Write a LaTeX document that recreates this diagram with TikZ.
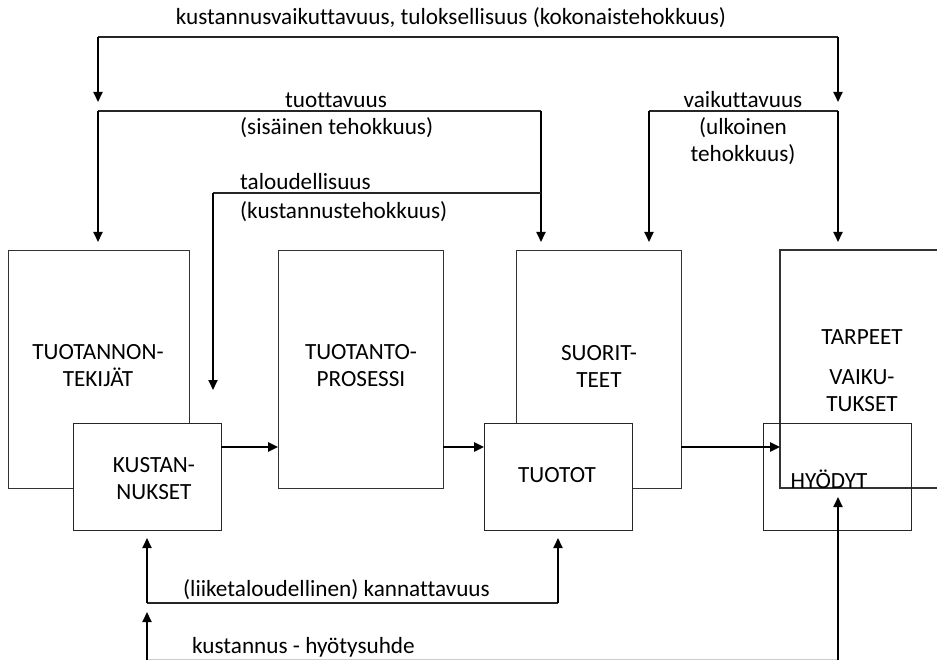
\documentclass[tikz,border=0pt]{standalone}
\usepackage{fontspec}
\setmainfont{Carlito}[Ligatures={NoCommon}]
\usetikzlibrary{arrows.meta}
\begin{document}
\begin{tikzpicture}[x=1pt,y=-1pt,
  font=\fontsize{23.2}{27}\selectfont,
  bigbox/.style={draw=black!80,line width=1.1pt,anchor=north west,inner sep=0pt},
  smallbox/.style={draw=black!85,line width=1.1pt,anchor=north west,inner sep=0pt},
  txt/.style={inner sep=0pt,align=center},
  lbl/.style={inner sep=0pt,anchor=west},
  feed/.style={line width=1.1pt,draw=black!85},
  arr/.style={line width=1.8pt,-{Triangle[length=10pt,width=9pt]}},
  flow/.style={line width=2.4pt,-{Triangle[length=10pt,width=9pt]}}]
\useasboundingbox (0,0) rectangle (937,660);
\clip (0,0) rectangle (937,660);

% large boxes
\node[bigbox,minimum width=181pt,minimum height=238pt] (tek) at (8,250) {};
\node[bigbox,minimum width=165pt,minimum height=238pt] (pros) at (278,250) {};
\node[bigbox,minimum width=165pt,minimum height=238pt] (suor) at (516,250) {};
% the last stage runs past the right margin
\draw[draw=black!80,line width=1.1pt] (945,250) -| (780,488) -- (945,488);

\node[txt] (tekt) at (98,366) {TUOTANNON-\\TEKIJÄT};
\node[txt] (prost) at (361,366) {TUOTANTO-\\PROSESSI};
\node[txt] (suort) at (599,366) {SUORIT-\\TEET};
\node[txt] (tarpt) at (862,337) {TARPEET};
\node[txt] (vaikt) at (862,391) {VAIKU-\\TUKSET};

% small boxes
\node[smallbox,fill=white,minimum width=148pt,minimum height=107pt] (kust) at (73,423) {};
\node[smallbox,fill=white,minimum width=148pt,minimum height=107pt] (tuot) at (484,423) {};
\node[smallbox,minimum width=148pt,minimum height=107pt] (hyod) at (763,423) {};

\node[txt] (kustt) at (154,479) {KUSTAN-\\NUKSET};
\node[txt] (tuott) at (557,475) {TUOTOT};
\node[txt] (hyodt) at (829,479) {HYÖDYT};

% flow between the stages
\coordinate (f1) at (221,447);
\coordinate (f2) at (278,447);
\coordinate (f3) at (443,447);
\coordinate (f4) at (484,447);
\coordinate (f5) at (681,447);
\coordinate (f6) at (780,447);
\draw[flow] (f1) -- (f2);
\draw[flow] (f3) -- (f4);
\draw[flow] (f5) -- (f6);

% kustannusvaikuttavuus
\coordinate (a1) at (98,37);
\coordinate (a2) at (838,37);
\coordinate (a1e) at (98,102);
\coordinate (a2e) at (838,102);
\draw[feed] (a1) -- (a2);
\draw[arr] (a1) -- (a1e);
\draw[arr] (a2) -- (a2e);
\node[txt] (lkv) at (451,18) {kustannusvaikuttavuus, tuloksellisuus (kokonaistehokkuus)};

% tuottavuus
\coordinate (b1) at (98,111);
\coordinate (b2) at (541,111);
\coordinate (b1e) at (98,242);
\coordinate (b2e) at (541,242);
\draw[feed] (b1) -- (b2);
\draw[arr] (b1) -- (b1e);
\draw[arr] (b2) -- (b2e);
\node[txt] (ltu) at (336,100) {tuottavuus};
\node[lbl] (ltu2) at (240,128) {(sisäinen tehokkuus)};

% taloudellisuus
\coordinate (c1) at (213,193);
\coordinate (c2) at (541,193);
\coordinate (c1e) at (213,390);
\draw[feed] (c1) -- (c2);
\draw[arr] (c1) -- (c1e);
\node[lbl] (lta) at (240,182) {taloudellisuus};
\node[lbl] (lta2) at (240,212) {(kustannustehokkuus)};

% vaikuttavuus
\coordinate (d1) at (649,111);
\coordinate (d2) at (838,111);
\coordinate (d1e) at (649,242);
\coordinate (d2e) at (838,242);
\draw[feed] (d1) -- (d2);
\draw[arr] (d1) -- (d1e);
\draw[arr] (d2) -- (d2e);
\node[txt] (lva) at (743,100) {vaikuttavuus};
\node[txt] (lva2) at (743,141.5) {(ulkoinen\\tehokkuus)};

% kannattavuus
\coordinate (e1) at (147,603);
\coordinate (e2) at (558,603);
\coordinate (e1e) at (147,538);
\coordinate (e2e) at (558,538);
\draw[feed] (e1) -- (e2);
\draw[arr] (e1) -- (e1e);
\draw[arr] (e2) -- (e2e);
\node[lbl] (lka) at (183,590) {(liiketaloudellinen) kannattavuus};

% kustannus-hyotysuhde
\coordinate (g1) at (147,662);
\coordinate (g2) at (838,662);
\coordinate (g1e) at (147,612);
\coordinate (g2e) at (838,497);
\draw[line width=1.2pt,draw=black!20] (147,659.5) -- (838,659.5);
\draw[arr] (g1) -- (g1e);
\draw[arr] (g2) -- (g2e);
\node[lbl] (lkh) at (192,647) {kustannus - hyötysuhde};
\end{tikzpicture}
\end{document}
